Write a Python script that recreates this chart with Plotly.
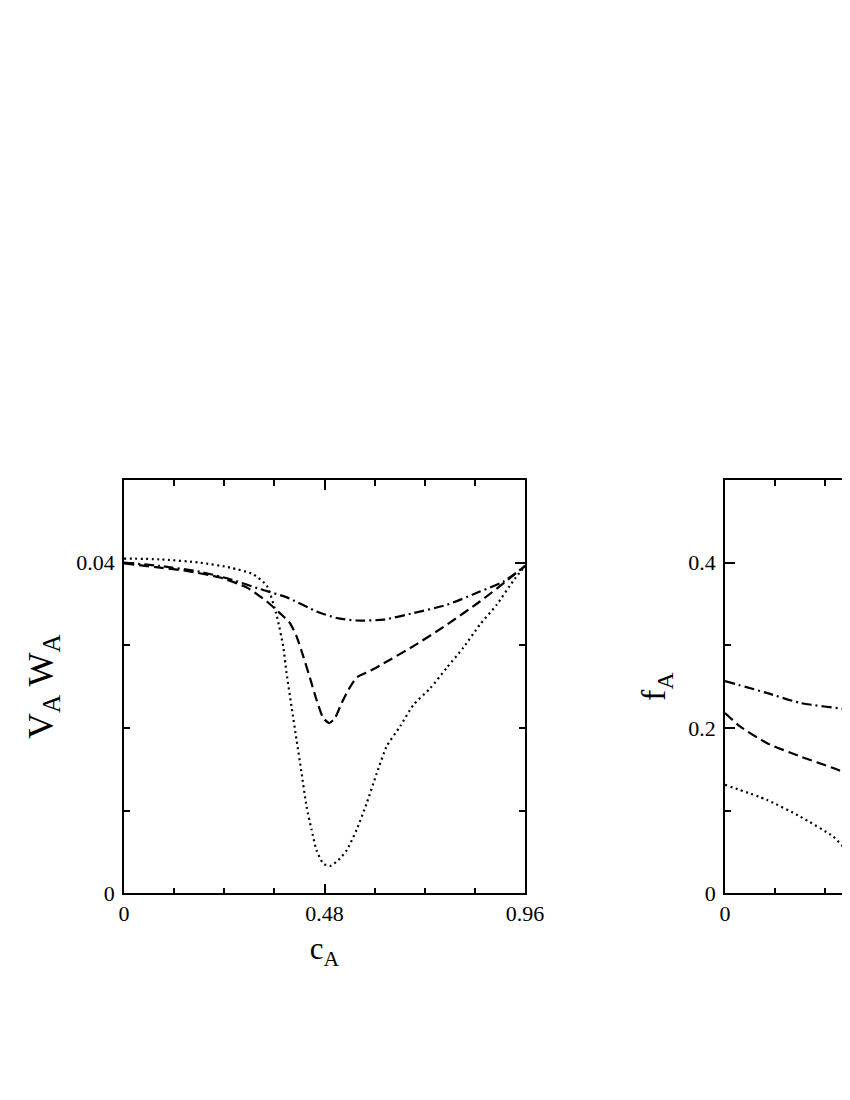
import plotly.graph_objects as go

# ---- Left panel: V_A W_A vs c_A ----
c_dot = [0, 0.086, 0.182, 0.254, 0.309, 0.342, 0.366, 0.381, 0.389, 0.401, 0.413, 0.425, 0.437,
         0.449, 0.461, 0.477, 0.493, 0.513, 0.533, 0.557, 0.581, 0.605, 0.629, 0.661, 0.693,
         0.733, 0.773, 0.812, 0.852, 0.892, 0.932, 0.96]
v_dot = [0.0405, 0.0404, 0.0400, 0.0394, 0.0386, 0.0372, 0.0335, 0.0299, 0.0267, 0.0226, 0.0186,
         0.0146, 0.0105, 0.0077, 0.0052, 0.0036, 0.0033, 0.0040, 0.0052, 0.0077, 0.0109, 0.0145,
         0.0178, 0.0202, 0.0228, 0.0248, 0.0273, 0.0297, 0.0325, 0.0349, 0.0378, 0.0396]

c_dash = [0, 0.086, 0.150, 0.230, 0.294, 0.342, 0.373, 0.397, 0.413, 0.429, 0.445, 0.461, 0.477,
          0.492, 0.505, 0.521, 0.537, 0.557, 0.589, 0.621, 0.693, 0.773, 0.852, 0.916, 0.96]
v_dash = [0.0399, 0.0394, 0.0390, 0.0382, 0.0370, 0.0353, 0.0339, 0.0327, 0.0311, 0.0287, 0.0261,
          0.0234, 0.0212, 0.0206, 0.0212, 0.0230, 0.0246, 0.0261, 0.0269, 0.0278, 0.0299, 0.0325,
          0.0353, 0.0378, 0.0396]

c_dd = [0, 0.086, 0.182, 0.254, 0.326, 0.390, 0.461, 0.509, 0.557, 0.621, 0.693, 0.773, 0.852,
        0.908, 0.96]
v_dd = [0.0400, 0.0396, 0.0389, 0.0380, 0.0368, 0.0358, 0.0341, 0.0333, 0.0330, 0.0331, 0.0339,
        0.0349, 0.0365, 0.0377, 0.0396]

# ---- Right panel: f_A vs c_A (visible part only) ----
c2_dd = [0, 0.100, 0.180, 0.299, 0.33]
f2_dd = [0.2567, 0.2424, 0.2303, 0.2222, 0.2200]

c2_dash = [0, 0.036, 0.100, 0.180, 0.259, 0.299, 0.33]
f2_dash = [0.218, 0.2019, 0.1818, 0.1656, 0.1515, 0.1434, 0.137]

c2_dot = [0, 0.100, 0.180, 0.259, 0.291, 0.33]
f2_dot = [0.1313, 0.1131, 0.0928, 0.0686, 0.0525, 0.042]

# tick labels
x_tickvals = [0, 0.48, 0.96]
x_ticktext = ["0", "0.48", "0.96"]
y1_tickvals = [0, 0.04]
y1_ticktext = ["0", "0.04"]
y2_tickvals = [0, 0.2, 0.4]
y2_ticktext = ["0", "0.2", "0.4"]

# page has an 8px body margin: figure coordinates = page coordinates - 8
OFF = 8
PW, PH = 850, 1100
W, H = PW, PH - 2 * OFF
FONT = "Liberation Serif"

DOT = "2px,3.5px"
DASH = "10px,5px"
DASHDOT = "10px,4px,2px,4px"

fig = go.Figure()

def add(x, y, dash, xa, ya):
    fig.add_trace(go.Scatter(x=x, y=y, mode="lines", xaxis=xa, yaxis=ya,
                             line=dict(color="black", width=2.2, dash=dash, shape="spline",
                                       smoothing=0.6),
                             showlegend=False, hoverinfo="skip"))

add(c_dot, v_dot, DOT, "x", "y")
add(c_dash, v_dash, DASH, "x", "y")
add(c_dd, v_dd, DASHDOT, "x", "y")
add(c2_dot, f2_dot, DOT, "x2", "y2")
add(c2_dash, f2_dash, DASH, "x2", "y2")
add(c2_dd, f2_dd, DASHDOT, "x2", "y2")

ydom = [1 - (893.3 - OFF) / H, 1 - (480 - OFF) / H]

axis_common = dict(showgrid=False, zeroline=False, showline=True, linecolor="black",
                   linewidth=1.5, ticks="inside", tickcolor="black", tickwidth=1.5,
                   ticklen=10, automargin=False, tickmode="array",
                   tickfont=dict(family=FONT, size=22, color="black"))

def minor(dt):
    return dict(dtick=dt, tick0=0, ticks="inside", ticklen=6, tickcolor="black", tickwidth=1.5)

right_end_page = W + OFF  # page x of the right edge of the figure

fig.update_layout(
    width=W, height=H,
    margin=dict(l=0, r=0, t=0, b=0),
    paper_bgcolor="white", plot_bgcolor="white",
    font=dict(family=FONT, color="black"),
    xaxis=dict(domain=[(124 - OFF) / W, (525 - OFF) / W], range=[0, 0.96], tickvals=x_tickvals,
               ticktext=x_ticktext, mirror="ticks", minor=minor(0.12),
               title=dict(text="c<sub>A</sub>", font=dict(family=FONT, size=31), standoff=12),
               anchor="y", **axis_common),
    yaxis=dict(domain=ydom, range=[0, 0.05], tickvals=y1_tickvals, ticktext=y1_ticktext,
               mirror="ticks", minor=minor(0.01), ticklabelstandoff=3,
               title=dict(text="V<sub>A</sub> W<sub>A</sub>", font=dict(family=FONT, size=36),
                          standoff=12),
               anchor="x", **axis_common),
    xaxis2=dict(domain=[(725 - OFF) / W, 1.0], range=[0, 0.96 * (right_end_page - 725) / 401],
                tickvals=x_tickvals, ticktext=x_ticktext, mirror="ticks", minor=minor(0.12),
                anchor="y2", **axis_common),
    yaxis2=dict(domain=ydom, range=[0, 0.5], tickvals=y2_tickvals, ticktext=y2_ticktext,
                mirror=False, minor=minor(0.1), ticklabelstandoff=3,
                title=dict(text="f<sub>A</sub>", font=dict(family=FONT, size=34), standoff=12),
                anchor="x2", **axis_common),
)

fig.write_html("out.html")
